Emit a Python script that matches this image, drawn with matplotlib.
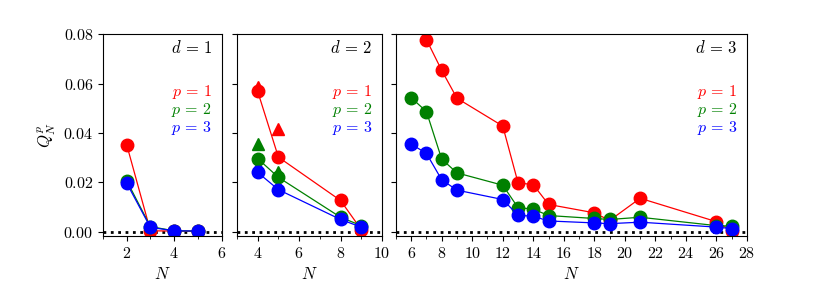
import matplotlib
matplotlib.use("Agg")
import matplotlib.pyplot as plt
from matplotlib.ticker import MultipleLocator

plt.rcParams['font.family'] = 'serif'
plt.rcParams['font.serif'] = ['cmr10']
plt.rcParams['mathtext.fontset'] = 'cm'
plt.rcParams['axes.formatter.use_mathtext'] = True
plt.rcParams['font.size'] = 11.5

# d = 1
N1 = [2, 3, 4, 5]
d1_p1 = [0.0353, 0.0003, 0.0002, 0.0001]
d1_p2 = [0.0207, 0.0020, 0.0003, 0.0002]
d1_p3 = [0.0197, 0.0017, 0.0003, 0.0002]

# d = 2
N2 = [4, 5, 8, 9]
d2_p1 = [0.0569, 0.0302, 0.0126, 0.0008]
d2_p2 = [0.0296, 0.0220, 0.0058, 0.0024]
d2_p3 = [0.0240, 0.0170, 0.0049, 0.0018]
N2_tri = [4, 5]
d2_p1_tri = [0.0585, 0.0418]
d2_p2_tri = [0.0357, 0.0240]
d2_p3_tri = [0.0268, 0.0190]

# d = 3
N3 = [6, 7, 8, 9, 12, 13, 14, 15, 18, 19, 21, 26, 27]
d3_p1 = [None, 0.0779, 0.0654, 0.0541, 0.0428, 0.0198, 0.0190, 0.0110,
         0.0076, 0.0045, 0.0135, 0.0040, 0.0001]
d3_p2 = [0.0543, 0.0487, 0.0294, 0.0238, 0.0188, 0.0097, 0.0091, 0.0065,
         0.0053, 0.0049, 0.0058, 0.0024, 0.0022]
d3_p3 = [0.0355, 0.0317, 0.0210, 0.0168, 0.0130, 0.0066, 0.0062, 0.0043,
         0.0035, 0.0032, 0.0038, 0.0018, 0.0012]

colors = ['red', 'green', 'blue']

fig = plt.figure(figsize=(8.3, 2.85), dpi=100)
ax1 = fig.add_axes([0.124, 0.172, 0.143, 0.709])
ax2 = fig.add_axes([0.2855, 0.172, 0.1747, 0.709])
ax3 = fig.add_axes([0.477, 0.172, 0.423, 0.709])


def draw(ax, N, series, dlabel, xlim, major):
    for ys, c in zip(series, colors):
        pts = [(n, y) for n, y in zip(N, ys) if y is not None]
        ax.plot([p[0] for p in pts], [p[1] for p in pts], '-o', color=c,
                lw=0.9, ms=9, mec=c)
    ax.axhline(0, color='black', lw=2, ls=':', zorder=0.5)
    ax.set_xlim(*xlim)
    ax.set_ylim(-0.0018, 0.0802)
    ax.xaxis.set_major_locator(MultipleLocator(major))
    ax.xaxis.set_minor_locator(MultipleLocator(major / 2))
    ax.yaxis.set_major_locator(MultipleLocator(0.02))
    ax.set_xlabel('$N$', fontsize=12)
    ax.annotate('$' + dlabel + '$', xy=(1, 0.935), xycoords='axes fraction',
                xytext=(-7, 0), textcoords='offset points',
                ha='right', va='center', fontsize=12)
    for i, (c, yy) in enumerate(zip(colors, [0.715, 0.625, 0.535])):
        ax.annotate(r'$p\,=\,%d$' % (i + 1), xy=(1, yy), xycoords='axes fraction',
                    xytext=(-7, 0), textcoords='offset points',
                    ha='right', va='center', fontsize=11.5, color=c)


draw(ax1, N1, [d1_p1, d1_p2, d1_p3], r'd\,=\,1', (1, 6), 2)
draw(ax2, N2, [d2_p1, d2_p2, d2_p3], r'd\,=\,2', (3, 10), 2)
draw(ax3, N3, [d3_p1, d3_p2, d3_p3], r'd\,=\,3', (5, 28), 2)

# triangles for d = 2
for ys, c in zip([d2_p1_tri, d2_p2_tri, d2_p3_tri], colors):
    ax2.plot(N2_tri, ys, '^', color=c, ms=9, zorder=1.5)

ax1.set_ylabel('$Q_N^p$', fontsize=12)
ax2.set_yticklabels([])
ax3.set_yticklabels([])

fig.savefig('out.png', dpi=100)
